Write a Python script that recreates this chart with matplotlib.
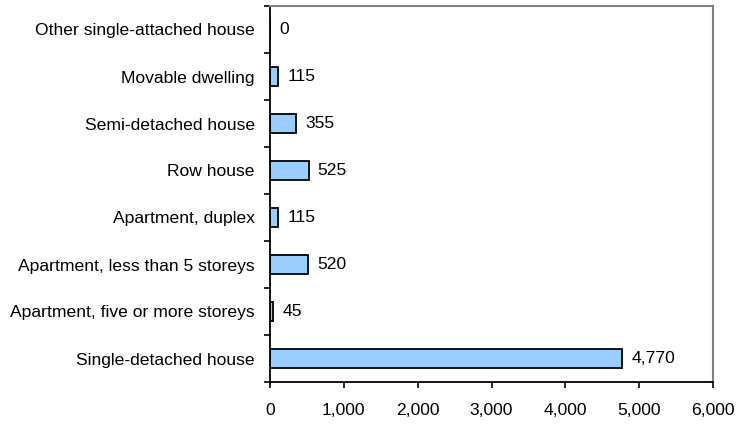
import numpy as np
import matplotlib
matplotlib.use('Agg')
import matplotlib.pyplot as plt

plt.rcParams['font.family'] = ['Liberation Sans', 'DejaVu Sans']

# categories listed bottom -> top
categories = [
    'Single-detached house',
    'Apartment, five or more storeys',
    'Apartment, less than 5 storeys',
    'Apartment, duplex',
    'Row house',
    'Semi-detached house',
    'Movable dwelling',
    'Other single-attached house',
]
values = [4770, 45, 520, 115, 525, 355, 115, 0]
xticks = [0, 1000, 2000, 3000, 4000, 5000, 6000]

FS = 12.6

fig = plt.figure(figsize=(7.36, 4.24), dpi=100)
ax = fig.add_axes([270 / 736, 42 / 424, 443 / 736, 376 / 424])

y = np.arange(len(categories))
ax.barh(y, values, height=0.4, color='#99CCFF', edgecolor='black', linewidth=1.3)

for yi, v in zip(y, values):
    ax.annotate(f'{v:,}', (v, yi), xytext=(9, 0), textcoords='offset pixels',
                va='center', ha='left', fontsize=FS)

ax.set_xlim(0, 6000)
ax.set_ylim(-0.5, len(categories) - 0.5)
ax.set_xticks(xticks)
ax.set_xticklabels([f'{t:,}' for t in xticks], fontsize=FS)
ax.set_yticks(y)
ax.set_yticklabels(categories, fontsize=FS)
ax.set_yticks(np.arange(-0.5, len(categories)), minor=True)
ax.tick_params(axis='y', which='major', length=0, pad=11)
ax.tick_params(axis='y', which='minor', length=4, width=1.2, direction='out')
ax.tick_params(axis='x', which='major', length=4, width=1.2, direction='out', pad=11)

for s in ['left', 'bottom']:
    ax.spines[s].set_color('black')
    ax.spines[s].set_linewidth(1.3)
for s in ['top', 'right']:
    ax.spines[s].set_color('#808080')
    ax.spines[s].set_linewidth(1.5)

fig.savefig('out.png', dpi=100)
